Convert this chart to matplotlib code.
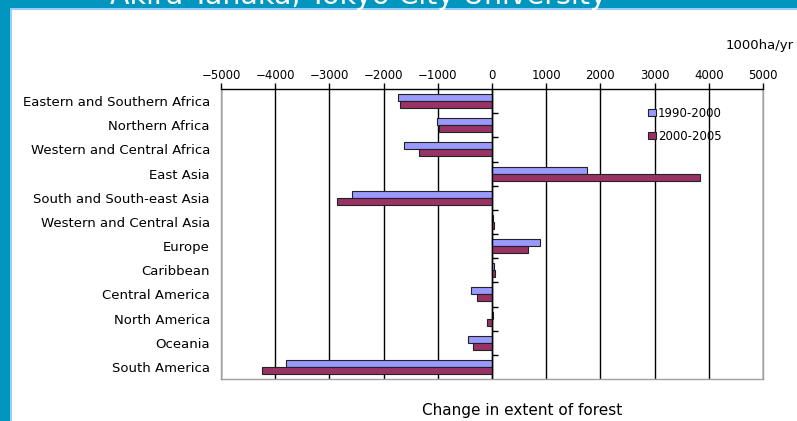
import matplotlib.pyplot as plt
import matplotlib.patches as mpatches
import numpy as np

# Data (1000 ha/yr)
regions = ["Eastern and Southern Africa", "Northern Africa", "Western and Central Africa",
           "East Asia", "South and South-east Asia", "Western and Central Asia", "Europe",
           "Caribbean", "Central America", "North America", "Oceania", "South America"]
change_1990_2000 = [-1731, -1013, -1631, 1751, -2578, 14, 877, 36, -380, 17, -448, -3802]
change_2000_2005 = [-1702, -982, -1356, 3840, -2851, 33, 661, 54, -285, -101, -356, -4251]
xticks = [-5000, -4000, -3000, -2000, -1000, 0, 1000, 2000, 3000, 4000, 5000]

W, H = 797, 421
fig = plt.figure(figsize=(W / 100, H / 100), dpi=100)
fig.patch.set_facecolor("white")

# slide decoration: teal left bar and top banner
teal = "#0096BE"
light = "#99CCFF"
fig.patches.append(mpatches.Rectangle((0, 0), 10 / W, 1, transform=fig.transFigure,
                                      facecolor=teal, edgecolor="none", zorder=0))
fig.patches.append(mpatches.Rectangle((10 / W, 0), 2 / W, 1 - 8 / H, transform=fig.transFigure,
                                      facecolor=light, edgecolor="none", zorder=0))
fig.patches.append(mpatches.Rectangle((0, 1 - 8 / H), 1, 8 / H, transform=fig.transFigure,
                                      facecolor=teal, edgecolor="none", zorder=0))
fig.patches.append(mpatches.Rectangle((12 / W, 1 - 10 / H), 1, 2 / H, transform=fig.transFigure,
                                      facecolor=light, edgecolor="none", zorder=0))
fig.text(110 / W, 1 - 4 / H, "Akira Tanaka, Tokyo City University", color="white",
         fontsize=20.5, va="baseline", ha="left")

ax = fig.add_axes([221 / W, 1 - 379 / H, (763 - 221) / W, (379 - 89) / H])

n = len(regions)
y = np.arange(n)
h = 0.29
ax.barh(y - h / 2, change_1990_2000, height=h, color="#9999FF", edgecolor="#222222",
        linewidth=0.8, label="1990-2000", zorder=3)
ax.barh(y + h / 2, change_2000_2005, height=h, color="#993366", edgecolor="#222222",
        linewidth=0.8, label="2000-2005", zorder=3)

ax.set_xlim(-5000, 5000)
ax.set_ylim(n - 0.5, -0.5)
ax.set_xticks(xticks)
ax.xaxis.tick_top()
ax.tick_params(axis="x", direction="out", length=4, width=1, labelsize=8.5, pad=1, color="black")
ax.xaxis.grid(True, color="black", linewidth=1, zorder=1)
ax.set_axisbelow(True)

ax.set_yticks(y)
ax.set_yticklabels(regions, fontsize=9.5)
ax.tick_params(axis="y", length=0, pad=8)

# zero line with category separator ticks
ax.axvline(0, color="black", linewidth=1, zorder=4)
ax.plot(np.zeros(n - 1), y[:-1] + 0.5, marker=1, linestyle="none", color="black",
        markersize=4, markeredgewidth=1, zorder=4)

for side in ["left", "right", "bottom"]:
    ax.spines[side].set_color("#A0A0A0")
    ax.spines[side].set_linewidth(1)
ax.spines["top"].set_color("black")
ax.spines["top"].set_linewidth(1)

ax.legend(loc="upper left", bbox_to_anchor=(0.78, 0.955), frameon=False, fontsize=8.5,
          handlelength=0.6, handleheight=0.6, handletextpad=0.2, labelspacing=0.85,
          borderaxespad=0)

fig.text(726 / W, 1 - 45 / H, "1000ha/yr", fontsize=9.5, va="center", ha="left")
fig.text(522 / W, 1 - 411 / H, "Change in extent of forest", fontsize=11, va="center", ha="center")

fig.savefig("out.png", dpi=100)
